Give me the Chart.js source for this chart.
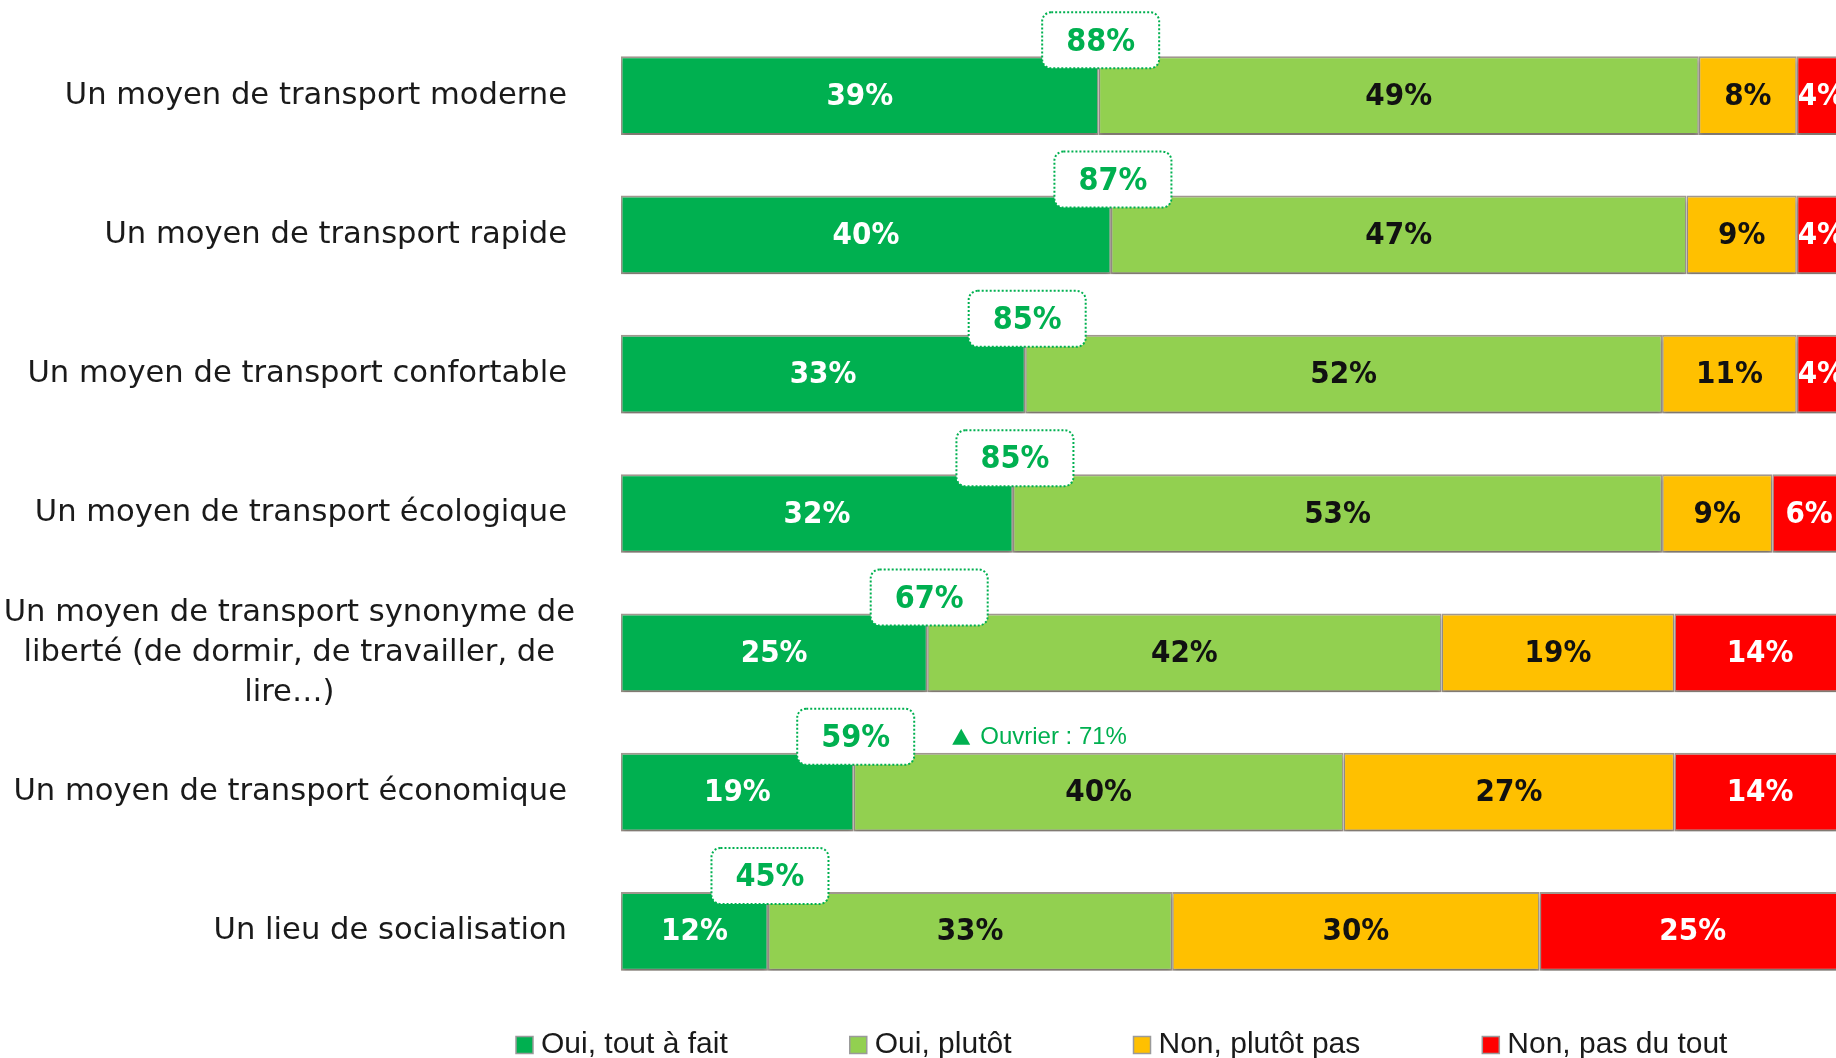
<!DOCTYPE html>
<html lang="fr">
<head>
<meta charset="utf-8">
<title>Image du train</title>
<script src="https://cdn.jsdelivr.net/npm/chart.js@4.4.1/dist/chart.umd.min.js"></script>
<style>
  html, body { margin: 0; padding: 0; background: #fff; overflow: hidden; }
  #wrap { width: 1836px; height: 1058px; }
</style>
</head>
<body>
<div id="wrap"><canvas id="opinionChart" width="1836" height="1058"></canvas></div>
<script>
const categories = [
  "Un moyen de transport moderne",
  "Un moyen de transport rapide",
  "Un moyen de transport confortable",
  "Un moyen de transport écologique",
  ["Un moyen de transport synonyme de", "liberté (de dormir, de travailler, de", "lire…)"],
  "Un moyen de transport économique",
  "Un lieu de socialisation",
];
const ouiToutAFait = [39, 40, 33, 32, 25, 19, 12];
const ouiPlutot = [49, 47, 52, 53, 42, 40, 33];
const nonPlutotPas = [8, 9, 11, 9, 19, 27, 30];
const nonPasDuTout = [4, 4, 4, 6, 14, 14, 25];
const totalOui = [88, 87, 85, 85, 67, 59, 45];
const notes = ["", "", "", "", "", "Ouvrier : 71%", ""];
const seriesLabels = ["Oui, tout à fait", "Oui, plutôt", "Non, plutôt pas", "Non, pas du tout"];

const colors = {
  darkGreen: "#00b050",
  lightGreen: "#92d050",
  yellow: "#ffc000",
  red: "#ff0000",
  border: "#a0978e",
  text: "#1a1a1a",
};
const seriesColors = [colors.darkGreen, colors.lightGreen, colors.yellow, colors.red];
const labelColors = ["#ffffff", "#111111", "#111111", "#ffffff"];

const labelFont = '"DejaVu Sans", sans-serif';
const valueFont = '"DejaVu Sans Condensed", "DejaVu Sans", sans-serif';
const legendFont = '"Liberation Sans Narrow", "Liberation Sans", sans-serif';

// soft shadow under each bar row
const barShadow = {
  id: "barShadow",
  beforeDatasetDraw(chart) {
    const ctx = chart.ctx;
    ctx.save();
    ctx.shadowColor = "rgba(0, 0, 0, 0.22)";
    ctx.shadowBlur = 4;
    ctx.shadowOffsetY = 4;
  },
  afterDatasetDraw(chart) {
    chart.ctx.restore();
  },
};

// percentages centred in every segment
const segmentLabels = {
  id: "segmentLabels",
  afterDatasetsDraw(chart) {
    const ctx = chart.ctx;
    ctx.save();
    ctx.font = `bold 31px ${valueFont}`;
    ctx.textAlign = "center";
    ctx.textBaseline = "middle";
    chart.data.datasets.forEach((ds, d) => {
      const meta = chart.getDatasetMeta(d);
      ctx.fillStyle = labelColors[d];
      meta.data.forEach((bar, i) => {
        const cx = (bar.x + bar.base) / 2;
        ctx.fillText(`${ds.data[i]}%`, cx, bar.y + 1);
      });
    });
    ctx.restore();
  },
};

// total "oui" bubbles + annotations
const totalBubbles = {
  id: "totalBubbles",
  afterDatasetsDraw(chart) {
    const ctx = chart.ctx;
    const xScale = chart.scales.x;
    const bars = chart.getDatasetMeta(0).data;
    const w = 117;
    const h = 56;
    ctx.save();
    totalOui.forEach((total, i) => {
      const bar = bars[i];
      const cx = xScale.getPixelForValue(ouiToutAFait[i]) + 2;
      const cy = bar.y - bar.height / 2 - 16;
      ctx.beginPath();
      ctx.roundRect(cx - w / 2, cy - h / 2, w, h, 9);
      ctx.fillStyle = "#ffffff";
      ctx.fill();
      ctx.setLineDash([2, 2]);
      ctx.lineWidth = 2;
      ctx.strokeStyle = colors.darkGreen;
      ctx.stroke();
      ctx.setLineDash([]);

      ctx.fillStyle = colors.darkGreen;
      ctx.font = `bold 32px ${valueFont}`;
      ctx.textAlign = "center";
      ctx.textBaseline = "middle";
      ctx.fillText(`${total}%`, cx, cy + 2);

      if (notes[i]) {
        const nx = cx + w / 2 + 38;
        ctx.beginPath();
        ctx.moveTo(nx, cy + 8);
        ctx.lineTo(nx + 18, cy + 8);
        ctx.lineTo(nx + 9, cy - 8);
        ctx.closePath();
        ctx.fill();
        ctx.font = `24px ${legendFont}`;
        ctx.textAlign = "left";
        ctx.fillText(notes[i], nx + 28, cy + 1);
      }
    });
    ctx.restore();
  },
};

// category labels left of the bars
const categoryLabels = {
  id: "categoryLabels",
  afterDraw(chart) {
    const ctx = chart.ctx;
    const yScale = chart.scales.y;
    const right = chart.chartArea.left - 54;
    const lineHeight = 40;
    ctx.save();
    ctx.font = `30.6px ${labelFont}`;
    ctx.fillStyle = colors.text;
    ctx.textBaseline = "middle";
    categories.forEach((label, i) => {
      const cy = yScale.getPixelForValue(i);
      if (Array.isArray(label)) {
        const maxW = Math.max(...label.map((l) => ctx.measureText(l).width));
        const cx = right - maxW / 2 + 8;
        ctx.textAlign = "center";
        label.forEach((line, k) => {
          ctx.fillText(line, cx, cy + (k - (label.length - 1) / 2) * lineHeight);
        });
      } else {
        ctx.textAlign = "right";
        ctx.fillText(label, right, cy);
      }
    });
    ctx.restore();
  },
};

// legend along the bottom
const bottomLegend = {
  id: "bottomLegend",
  afterDraw(chart) {
    const ctx = chart.ctx;
    const y = 1045;
    const box = 17;
    const gap = 122;
    let x = 516;
    ctx.save();
    ctx.font = `30px ${legendFont}`;
    ctx.textBaseline = "middle";
    ctx.textAlign = "left";
    seriesLabels.forEach((label, d) => {
      ctx.fillStyle = seriesColors[d];
      ctx.fillRect(x, y - box / 2, box, box);
      ctx.strokeStyle = "#9a9a9a";
      ctx.lineWidth = 1.5;
      ctx.strokeRect(x, y - box / 2, box, box);
      ctx.fillStyle = colors.text;
      ctx.fillText(label, x + box + 8, y);
      x += box + 8 + ctx.measureText(label).width + gap;
    });
    ctx.restore();
  },
};

const seriesData = [ouiToutAFait, ouiPlutot, nonPlutotPas, nonPasDuTout];

new Chart(document.getElementById("opinionChart"), {
  type: "bar",
  data: {
    labels: categories,
    datasets: seriesData.map((values, d) => ({
      label: seriesLabels[d],
      data: values,
      backgroundColor: seriesColors[d],
      borderColor: colors.border,
      borderWidth: { top: 2, bottom: 2, left: 1.5, right: 1.5 },
      borderSkipped: false,
      barPercentage: 0.565,
      categoryPercentage: 1,
    })),
  },
  options: {
    indexAxis: "y",
    responsive: false,
    animation: false,
    layout: {
      padding: { left: 621, right: 0, top: 26, bottom: 57 },
    },
    plugins: {
      legend: { display: false },
      tooltip: { enabled: false },
    },
    scales: {
      x: {
        stacked: true,
        min: 0,
        max: 99.2,
        display: false,
      },
      y: {
        stacked: true,
        display: false,
      },
    },
  },
  plugins: [barShadow, segmentLabels, totalBubbles, categoryLabels, bottomLegend],
});
</script>
</body>
</html>
